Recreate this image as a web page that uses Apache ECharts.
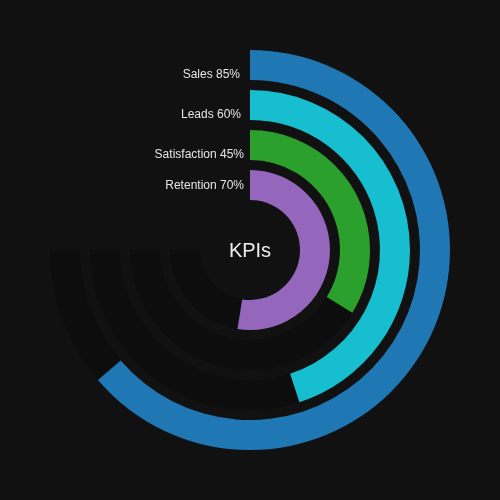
<!DOCTYPE html>
<html>
<head>
<meta charset="utf-8">
<script src="https://cdn.jsdelivr.net/npm/echarts@6/dist/echarts.min.js"></script>
<style>
html,body{margin:0;padding:0;background:#111111;}
#chart{width:500px;height:500px;}
</style>
</head>
<body>
<div id="chart"></div>
<script>
const categories = ['Retention', 'Satisfaction', 'Leads', 'Sales'];
const values = [70, 45, 60, 85];
const trackMax = [100, 100, 100, 100];
const barColors = ['#9467bd', '#2ca02c', '#17becf', '#1f77b4'];
const labelPos = [[244, 186], [244, 155], [241, 115], [240, 75]];

const chart = echarts.init(document.getElementById('chart'));
const option = {
  backgroundColor: '#111111',
  polar: { center: ['50%', '50%'], radius: [45, 205] },
  angleAxis: {
    type: 'value', min: 0, max: 100, startAngle: 90, endAngle: -180, clockwise: true,
    show: false
  },
  radiusAxis: {
    type: 'category', data: categories, show: false
  },
  series: [{
    type: 'bar',
    coordinateSystem: 'polar',
    barCategoryGap: '25%',
    barGap: '-100%',
    z: 1,
    itemStyle: { color: '#0d0d0d' },
    data: trackMax,
    silent: true
  }, {
    type: 'bar',
    coordinateSystem: 'polar',
    barCategoryGap: '25%',
    barGap: '-100%',
    z: 2,
    data: values.map((v, i) => ({ value: v, itemStyle: { color: barColors[i] } })),
    silent: true
  }],
  graphic: categories.map((c, i) => ({
    type: 'text',
    z: 100,
    x: labelPos[i][0], y: labelPos[i][1],
    style: {
      text: c + ' ' + values[i] + '%',
      fill: '#e6e6e6', fontSize: 12, fontFamily: 'Liberation Sans, Arial, sans-serif',
      align: 'right', verticalAlign: 'middle'
    }
  })).concat([{
    type: 'text', x: 250, y: 251, z: 100,
    style: { text: 'KPIs', fill: '#eeeeee', fontSize: 20, fontFamily: 'Liberation Sans, Arial, sans-serif', align: 'center', verticalAlign: 'middle' }
  }])
};
chart.setOption(option);
</script>
</body>
</html>
